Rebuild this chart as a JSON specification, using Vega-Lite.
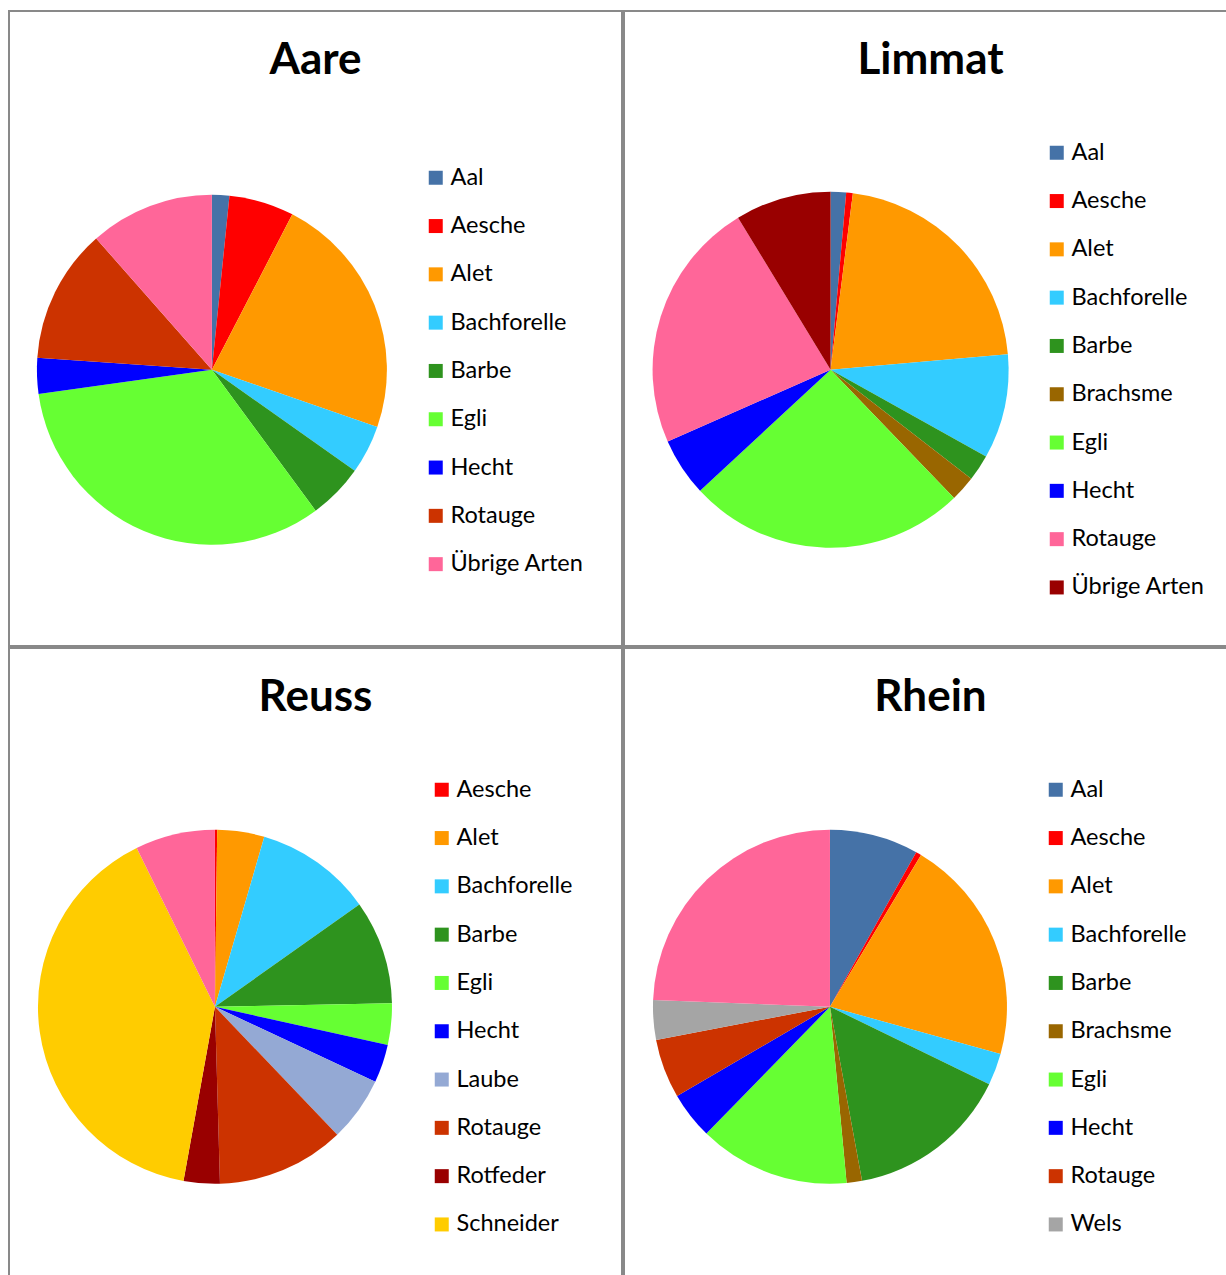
{
  "$schema": "https://vega.github.io/schema/vega-lite/v6.json",
  "background": "white",
  "padding": {"left": 8, "top": 10, "right": 0, "bottom": 0},
  "columns": 2,
  "spacing": 0,
  "resolve": {"scale": {"color": "independent", "theta": "independent", "x": "independent", "y": "independent"}, "legend": {"color": "independent"}},
  "config": {
    "view": {"stroke": "#898989", "strokeWidth": 2},
    "title": {"font": "Lato", "fontSize": 44, "fontWeight": "bold", "color": "#000000", "offset": -72, "baseline": "alphabetic", "frame": "group", "anchor": "middle"},
    "legend": {"orient": "none", "title": null, "labelFont": "Lato", "labelFontSize": 23.5, "labelColor": "#000000", "symbolType": "square", "symbolSize": 196, "symbolStrokeWidth": 0, "labelOffset": 3, "rowPadding": 23.3, "padding": 0, "labelLimit": 300}
  },
  "concat": [
    {
      "title": "Aare",
      "width": 613, "height": 635,
      "data": {"values": [
        {"art": "Aal", "anteil": 1.6},
        {"art": "Aesche", "anteil": 6.0},
        {"art": "Alet", "anteil": 22.7},
        {"art": "Bachforelle", "anteil": 4.5},
        {"art": "Barbe", "anteil": 5.1},
        {"art": "Egli", "anteil": 32.9},
        {"art": "Hecht", "anteil": 3.3},
        {"art": "Rotauge", "anteil": 12.4},
        {"art": "Übrige Arten", "anteil": 11.5}
      ]},
      "mark": {"type": "arc", "outerRadius": 175},
      "encoding": {
        "x": {"datum": 0.331, "type": "quantitative", "scale": {"domain": [0, 1]}, "axis": null},
        "y": {"datum": 0.435, "type": "quantitative", "scale": {"domain": [0, 1]}, "axis": null},
        "theta": {"field": "anteil", "type": "quantitative", "stack": true},
        "color": {"field": "art", "type": "nominal",
          "scale": {"domain": ["Aal", "Aesche", "Alet", "Bachforelle", "Barbe", "Egli", "Hecht", "Rotauge", "Übrige Arten"],
                    "range": ["#4572A7", "#FF0000", "#FF9900", "#33CCFF", "#2E931E", "#66FF33", "#0000FF", "#CC3300", "#FF6699"]},
          "legend": {"legendX": 415, "legendY": 155}}
      }
    },
    {
      "title": "Limmat",
      "width": 613, "height": 635,
      "data": {"values": [
        {"art": "Aal", "anteil": 1.4},
        {"art": "Aesche", "anteil": 0.6},
        {"art": "Alet", "anteil": 21.6},
        {"art": "Bachforelle", "anteil": 9.5},
        {"art": "Barbe", "anteil": 2.4},
        {"art": "Brachsme", "anteil": 2.3},
        {"art": "Egli", "anteil": 25.3},
        {"art": "Hecht", "anteil": 5.3},
        {"art": "Rotauge", "anteil": 22.9},
        {"art": "Übrige Arten", "anteil": 8.7}
      ]},
      "mark": {"type": "arc", "outerRadius": 178},
      "encoding": {
        "x": {"datum": 0.337, "type": "quantitative", "scale": {"domain": [0, 1]}, "axis": null},
        "y": {"datum": 0.435, "type": "quantitative", "scale": {"domain": [0, 1]}, "axis": null},
        "theta": {"field": "anteil", "type": "quantitative", "stack": true},
        "color": {"field": "art", "type": "nominal",
          "scale": {"domain": ["Aal", "Aesche", "Alet", "Bachforelle", "Barbe", "Brachsme", "Egli", "Hecht", "Rotauge", "Übrige Arten"],
                    "range": ["#4572A7", "#FF0000", "#FF9900", "#33CCFF", "#2E931E", "#996600", "#66FF33", "#0000FF", "#FF6699", "#990000"]},
          "legend": {"legendX": 421, "legendY": 130}}
      }
    },
    {
      "title": "Reuss",
      "width": 613, "height": 635,
      "data": {"values": [
        {"art": "Aesche", "anteil": 0.2},
        {"art": "Alet", "anteil": 4.3},
        {"art": "Bachforelle", "anteil": 10.7},
        {"art": "Barbe", "anteil": 9.5},
        {"art": "Egli", "anteil": 3.8},
        {"art": "Hecht", "anteil": 3.5},
        {"art": "Laube", "anteil": 5.9},
        {"art": "Rotauge", "anteil": 11.7},
        {"art": "Rotfeder", "anteil": 3.3},
        {"art": "Schneider", "anteil": 39.9},
        {"art": "Übrige Arten", "anteil": 7.3}
      ]},
      "mark": {"type": "arc", "outerRadius": 177},
      "encoding": {
        "x": {"datum": 0.336, "type": "quantitative", "scale": {"domain": [0, 1]}, "axis": null},
        "y": {"datum": 0.435, "type": "quantitative", "scale": {"domain": [0, 1]}, "axis": null},
        "theta": {"field": "anteil", "type": "quantitative", "stack": true},
        "color": {"field": "art", "type": "nominal",
          "scale": {"domain": ["Aesche", "Alet", "Bachforelle", "Barbe", "Egli", "Hecht", "Laube", "Rotauge", "Rotfeder", "Schneider", "Übrige Arten"],
                    "range": ["#FF0000", "#FF9900", "#33CCFF", "#2E931E", "#66FF33", "#0000FF", "#94A9D4", "#CC3300", "#990000", "#FFCC00", "#FF6699"]},
          "legend": {"legendX": 421, "legendY": 130, "values": ["Aesche", "Alet", "Bachforelle", "Barbe", "Egli", "Hecht", "Laube", "Rotauge", "Rotfeder", "Schneider"]}}
      }
    },
    {
      "title": "Rhein",
      "width": 613, "height": 635,
      "data": {"values": [
        {"art": "Aal", "anteil": 8.1},
        {"art": "Aesche", "anteil": 0.5},
        {"art": "Alet", "anteil": 20.7},
        {"art": "Bachforelle", "anteil": 2.9},
        {"art": "Barbe", "anteil": 14.9},
        {"art": "Brachsme", "anteil": 1.4},
        {"art": "Egli", "anteil": 13.8},
        {"art": "Hecht", "anteil": 4.3},
        {"art": "Rotauge", "anteil": 5.4},
        {"art": "Wels", "anteil": 3.6},
        {"art": "Übrige Arten", "anteil": 24.4}
      ]},
      "mark": {"type": "arc", "outerRadius": 177},
      "encoding": {
        "x": {"datum": 0.336, "type": "quantitative", "scale": {"domain": [0, 1]}, "axis": null},
        "y": {"datum": 0.435, "type": "quantitative", "scale": {"domain": [0, 1]}, "axis": null},
        "theta": {"field": "anteil", "type": "quantitative", "stack": true},
        "color": {"field": "art", "type": "nominal",
          "scale": {"domain": ["Aal", "Aesche", "Alet", "Bachforelle", "Barbe", "Brachsme", "Egli", "Hecht", "Rotauge", "Wels", "Übrige Arten"],
                    "range": ["#4572A7", "#FF0000", "#FF9900", "#33CCFF", "#2E931E", "#996600", "#66FF33", "#0000FF", "#CC3300", "#A5A5A5", "#FF6699"]},
          "legend": {"legendX": 420, "legendY": 130, "values": ["Aal", "Aesche", "Alet", "Bachforelle", "Barbe", "Brachsme", "Egli", "Hecht", "Rotauge", "Wels"]}}
      }
    }
  ]
}
